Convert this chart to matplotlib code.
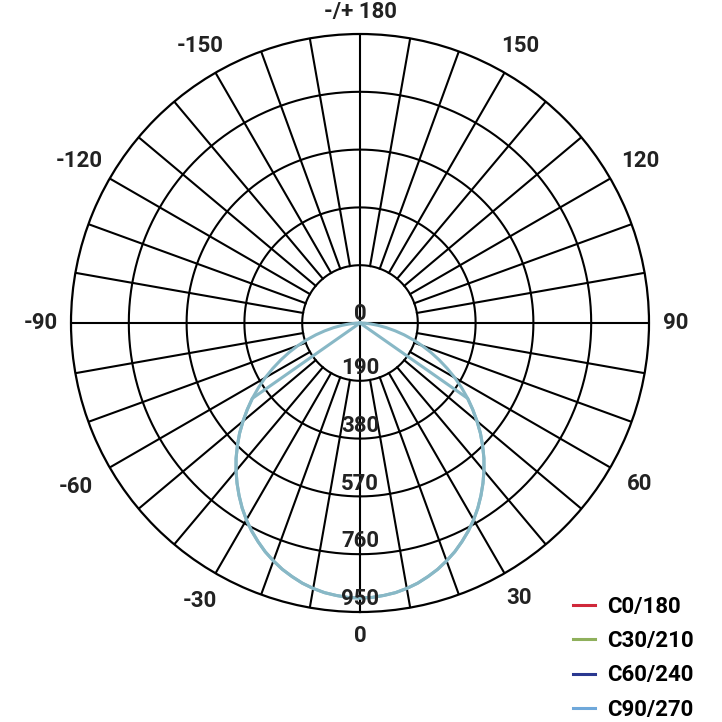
''' polar luminous intensity diagram '''
import numpy as np
import matplotlib.pyplot as plt
from matplotlib.lines import Line2D

# gamma angles (deg) and intensities (cd)
GAMMA = [0, 2.5, 5, 7.5, 10, 12.5, 15, 17.5, 20, 22.5, 25, 27.5, 30, 32.5, 35, 37.5,
         40, 42.5, 45, 47.5, 50, 52.5, 55, 57.5, 60, 62.5, 65, 67.5, 70, 72.5, 75,
         77.5, 80, 82.5, 85, 87.5, 90]
# planes whose curve runs all the way round to 90 deg
WIDE_A = [904, 903, 899, 894, 886, 876, 863, 849, 832, 814, 793, 771, 747, 721, 693,
          664, 634, 603, 570, 537, 502, 467, 432, 396, 360, 323, 287, 252, 217, 183,
          150, 118, 88, 60, 35, 14, 0]
WIDE_B = [904, 903, 899, 894, 886, 876, 863, 849, 832, 814, 793, 771, 747, 721, 693,
          664, 634, 603, 570, 537, 502, 467, 432, 396, 360, 323, 287, 252, 217, 183,
          150, 118, 88, 60, 35, 14, 0]
# planes that drop to zero after 55 deg
NARROW_A = [904, 903, 899, 894, 886, 876, 863, 849, 832, 814, 793, 771, 747, 721, 693,
            664, 634, 603, 570, 537, 502, 467, 432, 0, 0, 0, 0, 0, 0, 0,
            0, 0, 0, 0, 0, 0, 0]
NARROW_B = [904, 903, 899, 894, 886, 876, 863, 849, 832, 814, 793, 771, 747, 721, 693,
            664, 634, 603, 570, 537, 502, 467, 432, 0, 0, 0, 0, 0, 0, 0,
            0, 0, 0, 0, 0, 0, 0]

SERIES = ['C0/180', 'C30/210', 'C60/240', 'C90/270']
SERIES_COLORS = ['#d0283a', '#8fb05c', '#2a3890', '#6fa8da']
CURVE_COLOR = '#88b8c6'

RING_VALUES = [190, 380, 570, 760, 950]
ANGLE_TICKS = [0, 30, 60, 90, 120, 150, 180, 210, 240, 270, 300, 330]
ANGLE_LABELS = ['0', '30', '60', '90', '120', '150', '-/+ 180',
                '-150', '-120', '-90', '-60', '-30']
# distance of each angle label from the centre, pixels
LABEL_DIST = [313, 318, 323, 316, 324, 320, 311, 320, 324, 319, 328, 321]

CX, CY, RPX = 360, 323, 289
W = 722


def main():
    ''' main function '''
    plt.rcParams['font.family'] = ['Roboto', 'DejaVu Sans']
    fig = plt.figure(figsize=(7.22, 7.22), dpi=100)
    ax = fig.add_axes([(CX - RPX) / W, (W - CY - RPX) / W, 2 * RPX / W, 2 * RPX / W],
                      projection='polar')
    ax.set_theta_zero_location('S')
    ax.set_theta_direction(1)
    rmax = RING_VALUES[-1]
    ax.set_ylim(0, rmax)
    ax.grid(False)
    ax.set_xticks([])
    ax.set_yticks([])
    ax.spines['polar'].set_linewidth(1.6)
    ax.spines['polar'].set_color('black')

    # grid: rings and radial spokes
    full = np.linspace(0, 2 * np.pi, 721)
    for ring in RING_VALUES[:-1]:
        ax.plot(full, np.full_like(full, ring), color='black', lw=1.5, zorder=1)
    for deg in range(0, 360, 10):
        start = 0 if deg % 90 == 0 else RING_VALUES[0]
        th = np.deg2rad(deg)
        ax.plot([th, th], [start, rmax], color='black', lw=1.5, zorder=1)

    # curves: each C plane pair drawn from -90 (second half) to +90 (first half)
    gam = np.array(GAMMA)
    for first, second in [(WIDE_A, WIDE_B), (NARROW_A, NARROW_B)]:
        ang = np.concatenate([-gam[::-1], gam[1:]])
        val = np.concatenate([np.array(second)[::-1], np.array(first)[1:]])
        ax.plot(np.deg2rad(ang), val, color=CURVE_COLOR, lw=2.2, zorder=3,
                solid_joinstyle='round')

    # labels
    txt = dict(fontsize=16, fontweight='bold', color='#222222', ha='center', va='center')
    for deg, lab, dist in zip(ANGLE_TICKS, ANGLE_LABELS, LABEL_DIST):
        a = np.deg2rad(deg)
        px = CX + dist * np.sin(a)
        py = CY + dist * np.cos(a)
        fig.text(px / W, 1 - py / W, lab, **txt)
    ax.text(np.pi, 28, '0', zorder=4, **txt)
    for ring in RING_VALUES:
        ax.text(0, ring - 42, str(ring), zorder=4, **txt)

    handles = [Line2D([], [], color=c, lw=2.2) for c in SERIES_COLORS]
    fig.legend(handles, SERIES, loc='upper left', bbox_to_anchor=(573 / W, 1 - 596 / W),
               frameon=False, borderpad=0, borderaxespad=0, handlelength=1.0,
               handletextpad=0.55, labelspacing=0.55, prop=dict(size=16, weight='bold'))

    fig.savefig('out.png', dpi=100, facecolor='white')


if __name__ == "__main__":
    main()
